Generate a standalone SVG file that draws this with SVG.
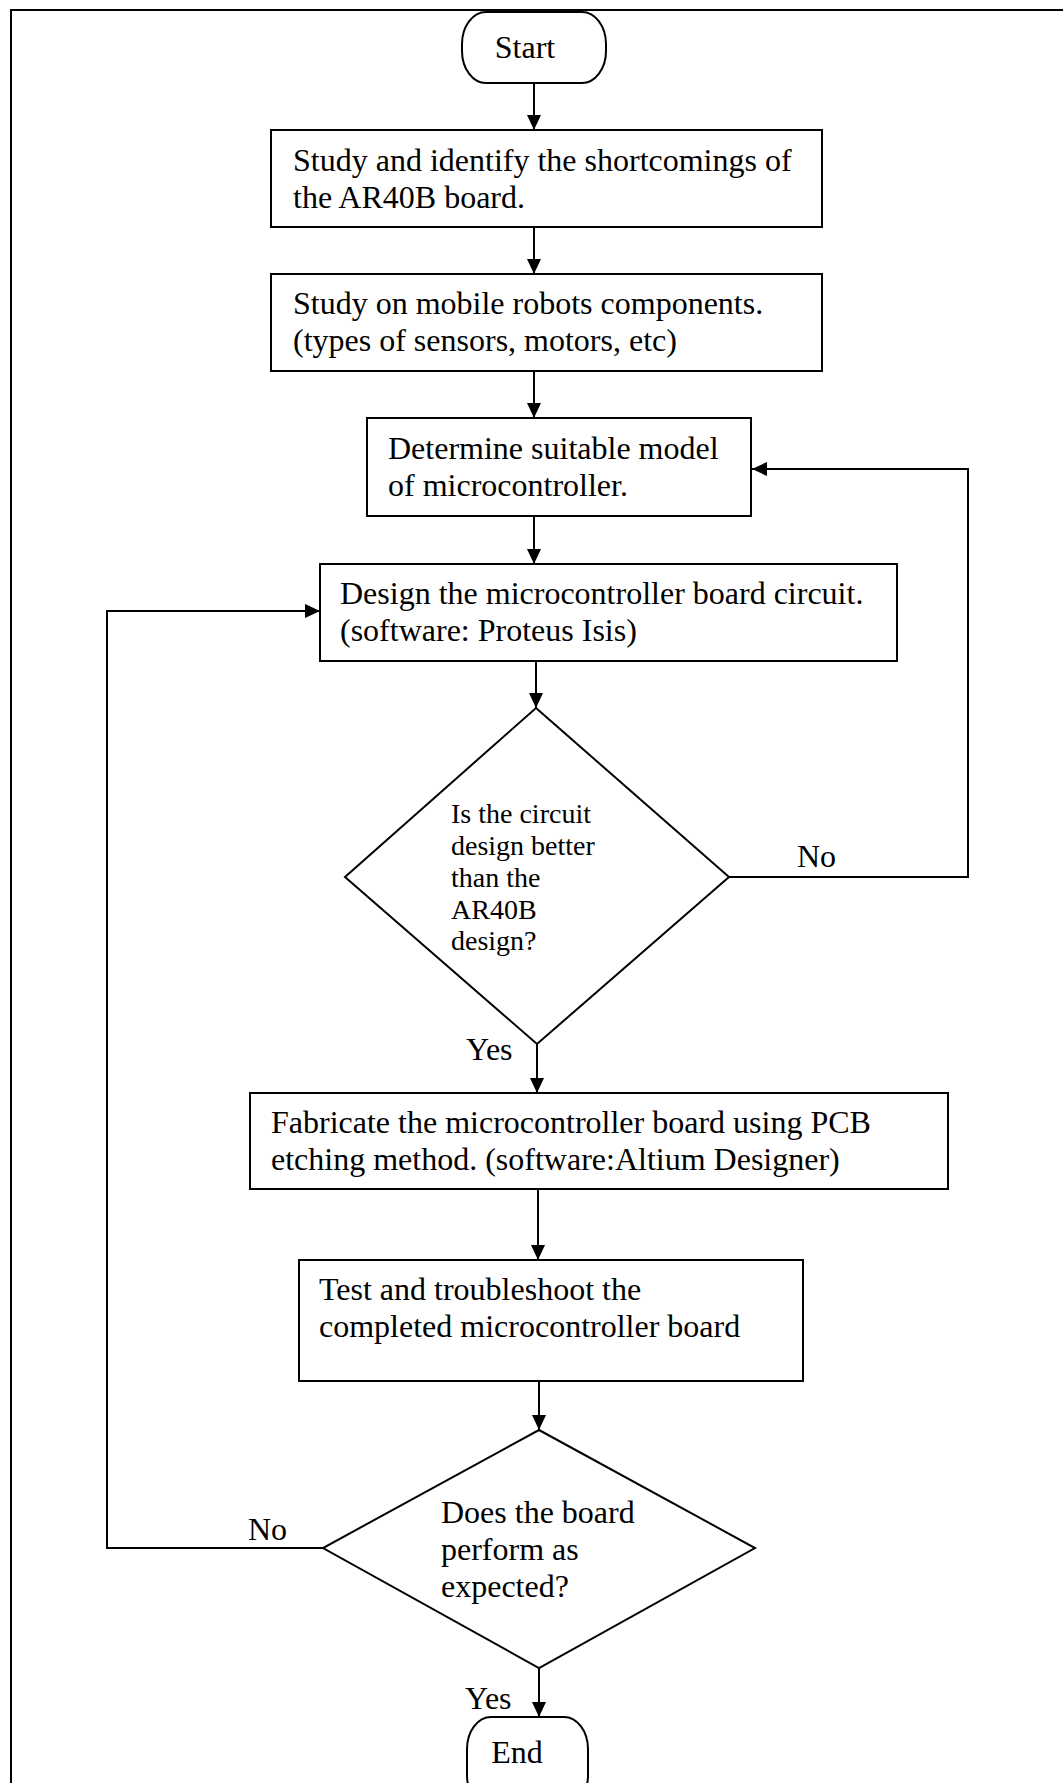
<svg xmlns="http://www.w3.org/2000/svg" width="1063" height="1783" viewBox="0 0 1063 1783">
<style>
text { font-family: "Liberation Serif", "Times New Roman", serif; fill: #000; }
.t { font-size: 32px; }
.s { font-size: 28px; }
.box { fill: #fff; stroke: #000; stroke-width: 2; }
.ln { fill: none; stroke: #000; stroke-width: 2; }
</style>
<defs>
<marker id="ah" markerUnits="userSpaceOnUse" markerWidth="15" markerHeight="14" refX="15" refY="7" orient="auto">
<path d="M0,0 L15,7 L0,14 z" fill="#000"/>
</marker>
<clipPath id="d1clip"><rect x="0" y="0" width="1063" height="957"/></clipPath>
</defs>
<rect x="0" y="0" width="1063" height="1783" fill="#fff"/>
<g id="frame">
<path class="ln" d="M11,1783 L11,10 L1063,10"/>
</g>
<g id="connectors">
<path class="ln" d="M534,83 L534,130" marker-end="url(#ah)"/>
<path class="ln" d="M534,227 L534,274" marker-end="url(#ah)"/>
<path class="ln" d="M534,371 L534,418" marker-end="url(#ah)"/>
<path class="ln" d="M534,516 L534,564" marker-end="url(#ah)"/>
<path class="ln" d="M536,661 L536,708" marker-end="url(#ah)"/>
<path class="ln" d="M729,877 L968,877 L968,469 L752,469" marker-end="url(#ah)"/>
<path class="ln" d="M537,1044 L537,1093" marker-end="url(#ah)"/>
<path class="ln" d="M538,1189 L538,1260" marker-end="url(#ah)"/>
<path class="ln" d="M539,1381 L539,1430" marker-end="url(#ah)"/>
<path class="ln" d="M323,1548 L107,1548 L107,611 L320,611" marker-end="url(#ah)"/>
<path class="ln" d="M539,1668 L539,1717" marker-end="url(#ah)"/>
<text class="t" x="797" y="867">No</text>
<text class="t" x="466" y="1060">Yes</text>
<text class="t" x="248" y="1540">No</text>
<text class="t" x="465" y="1709">Yes</text>
</g>
<g id="start">
<rect class="box" x="462" y="12" width="144" height="71" rx="24" ry="32"/>
<text class="t" x="525" y="58" text-anchor="middle">Start</text>
</g>
<g id="step1">
<rect class="box" x="271" y="130" width="551" height="97"/>
<text class="t" x="293" y="171">Study and identify the shortcomings of</text>
<text class="t" x="293" y="208">the AR40B board.</text>
</g>
<g id="step2">
<rect class="box" x="271" y="274" width="551" height="97"/>
<text class="t" x="293" y="314">Study on mobile robots components.</text>
<text class="t" x="293" y="351">(types of sensors, motors, etc)</text>
</g>
<g id="step3">
<rect class="box" x="367" y="418" width="384" height="98"/>
<text class="t" x="388" y="459">Determine suitable model</text>
<text class="t" x="388" y="496">of microcontroller.</text>
</g>
<g id="step4">
<rect class="box" x="320" y="564" width="577" height="97"/>
<text class="t" x="340" y="604">Design the microcontroller board circuit.</text>
<text class="t" x="340" y="641">(software: Proteus Isis)</text>
</g>
<g id="decision1">
<path class="box" d="M536,708 L729,877 L537,1044 L345,877 Z"/>
<g clip-path="url(#d1clip)">
<text class="s" x="451" y="823">Is the circuit</text>
<text class="s" x="451" y="855">design better</text>
<text class="s" x="451" y="887">than the</text>
<text class="s" x="451" y="919">AR40B</text>
<text class="s" x="451" y="950">design?</text>
</g>
</g>
<g id="step5">
<rect class="box" x="250" y="1093" width="698" height="96"/>
<text class="t" x="271" y="1133">Fabricate the microcontroller board using PCB</text>
<text class="t" x="271" y="1170">etching method. (software:Altium Designer)</text>
</g>
<g id="step6">
<rect class="box" x="299" y="1260" width="504" height="121"/>
<text class="t" x="319" y="1300">Test and troubleshoot the</text>
<text class="t" x="319" y="1337">completed microcontroller board</text>
</g>
<g id="decision2">
<path class="box" d="M539,1430 L755,1548 L539,1668 L323,1548 Z"/>
<text class="t" x="441" y="1523">Does the board</text>
<text class="t" x="441" y="1560">perform as</text>
<text class="t" x="441" y="1597">expected?</text>
</g>
<g id="end">
<rect class="box" x="467" y="1717" width="121" height="90" rx="24" ry="32"/>
<text class="t" x="517" y="1763" text-anchor="middle">End</text>
</g>
</svg>
